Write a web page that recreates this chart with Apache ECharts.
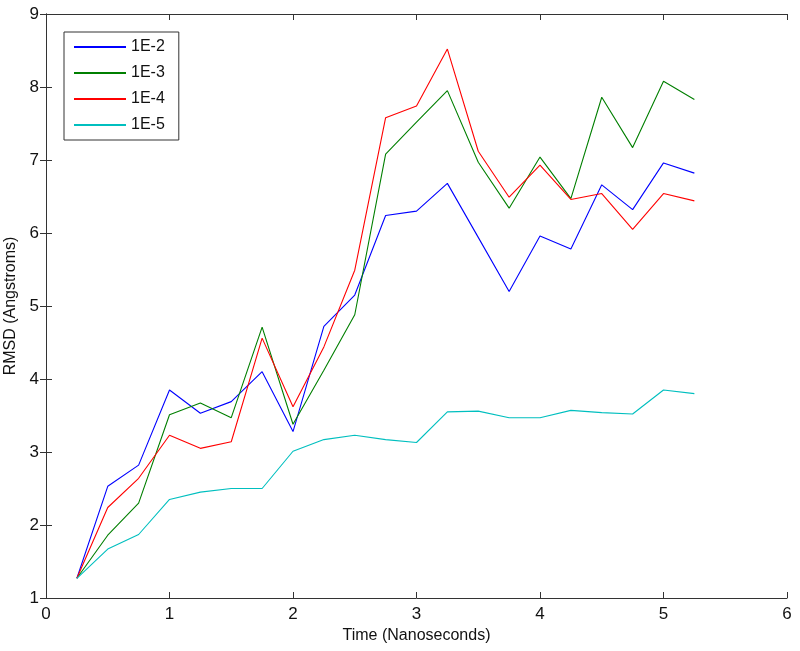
<!DOCTYPE html>
<html><head><meta charset="utf-8">
<script src="https://cdn.jsdelivr.net/npm/echarts@6/dist/echarts.min.js"></script>
<style>html,body{margin:0;padding:0;background:#fff}#c{width:800px;height:651px}</style>
</head><body><div id="c"></div>
<script>
const times = [0.25,0.5,0.75,1,1.25,1.5,1.75,2,2.25,2.5,2.75,3,3.25,3.5,3.75,4,4.25,4.5,4.75,5,5.25];
const s1E2 = [1.27,2.53,2.82,3.85,3.53,3.69,4.10,3.28,4.72,5.15,6.24,6.30,6.68,5.94,5.20,5.96,5.78,6.66,6.32,6.96,6.82];
const s1E3 = [1.27,1.86,2.30,3.51,3.67,3.47,4.71,3.38,4.12,4.88,7.08,7.52,7.95,6.97,6.34,7.04,6.47,7.86,7.17,8.08,7.83];
const s1E4 = [1.27,2.24,2.64,3.23,3.05,3.14,4.56,3.62,4.44,5.49,7.58,7.74,8.52,7.12,6.49,6.93,6.46,6.54,6.05,6.54,6.44];
const s1E5 = [1.27,1.67,1.87,2.35,2.45,2.50,2.50,3.01,3.17,3.23,3.17,3.13,3.55,3.56,3.47,3.47,3.57,3.54,3.52,3.85,3.80];
const names = ['1E-2','1E-3','1E-4','1E-5'];
const colors = ['#0000ff','#007f00','#ff0000','#00bfbf'];
const seriesVals = [s1E2,s1E3,s1E4,s1E5];
const font = 'Liberation Sans, Arial, sans-serif';
const axisCommon = {
  type:'value', axisLine:{show:true,lineStyle:{color:'#333',width:1}},
  axisTick:{show:true,inside:true,length:6,lineStyle:{color:'#333'}},
  splitLine:{show:false}
};
const chart = echarts.init(document.getElementById('c'));
chart.setOption({
  animation:false,
  grid:{left:46,right:13,top:14,bottom:53,containLabel:false,outerBoundsMode:'none'},
  legend:{
    data:names, orient:'vertical', left:64, top:32, width:114,
    backgroundColor:'#fff', borderColor:'#333', borderWidth:1,
    padding:[7,14,7,10], itemGap:10, itemWidth:52, itemHeight:2,
    icon:'rect',
    textStyle:{fontFamily:font,fontSize:16,color:'#111'}
  },
  xAxis:[
    Object.assign({}, axisCommon, {min:0,max:6,interval:1,position:'bottom',
      name:'Time (Nanoseconds)', nameLocation:'middle', nameGap:28,
      nameTextStyle:{fontFamily:font,fontSize:16,color:'#111'},
      axisLabel:{fontFamily:font,fontSize:17,color:'#111',margin:8}}),
    Object.assign({}, axisCommon, {min:0,max:6,interval:1,position:'top',axisLabel:{show:false}})
  ],
  yAxis:[
    Object.assign({}, axisCommon, {min:1,max:9,interval:1,position:'left',
      name:'RMSD (Angstroms)', nameLocation:'middle', nameGap:21,
      nameTextStyle:{fontFamily:font,fontSize:16,color:'#111'},
      axisLabel:{fontFamily:font,fontSize:17,color:'#111',margin:7}}),
    Object.assign({}, axisCommon, {min:1,max:9,interval:1,position:'right',axisLabel:{show:false}})
  ],
  series: seriesVals.map((vals,i)=>({
    name:names[i], type:'line', xAxisIndex:0, yAxisIndex:0,
    data: times.map((t,j)=>[t, vals[j]]),
    showSymbol:false, symbol:'none',
    lineStyle:{color:colors[i],width:1.1}, itemStyle:{color:colors[i]}
  }))
});
</script></body></html>
